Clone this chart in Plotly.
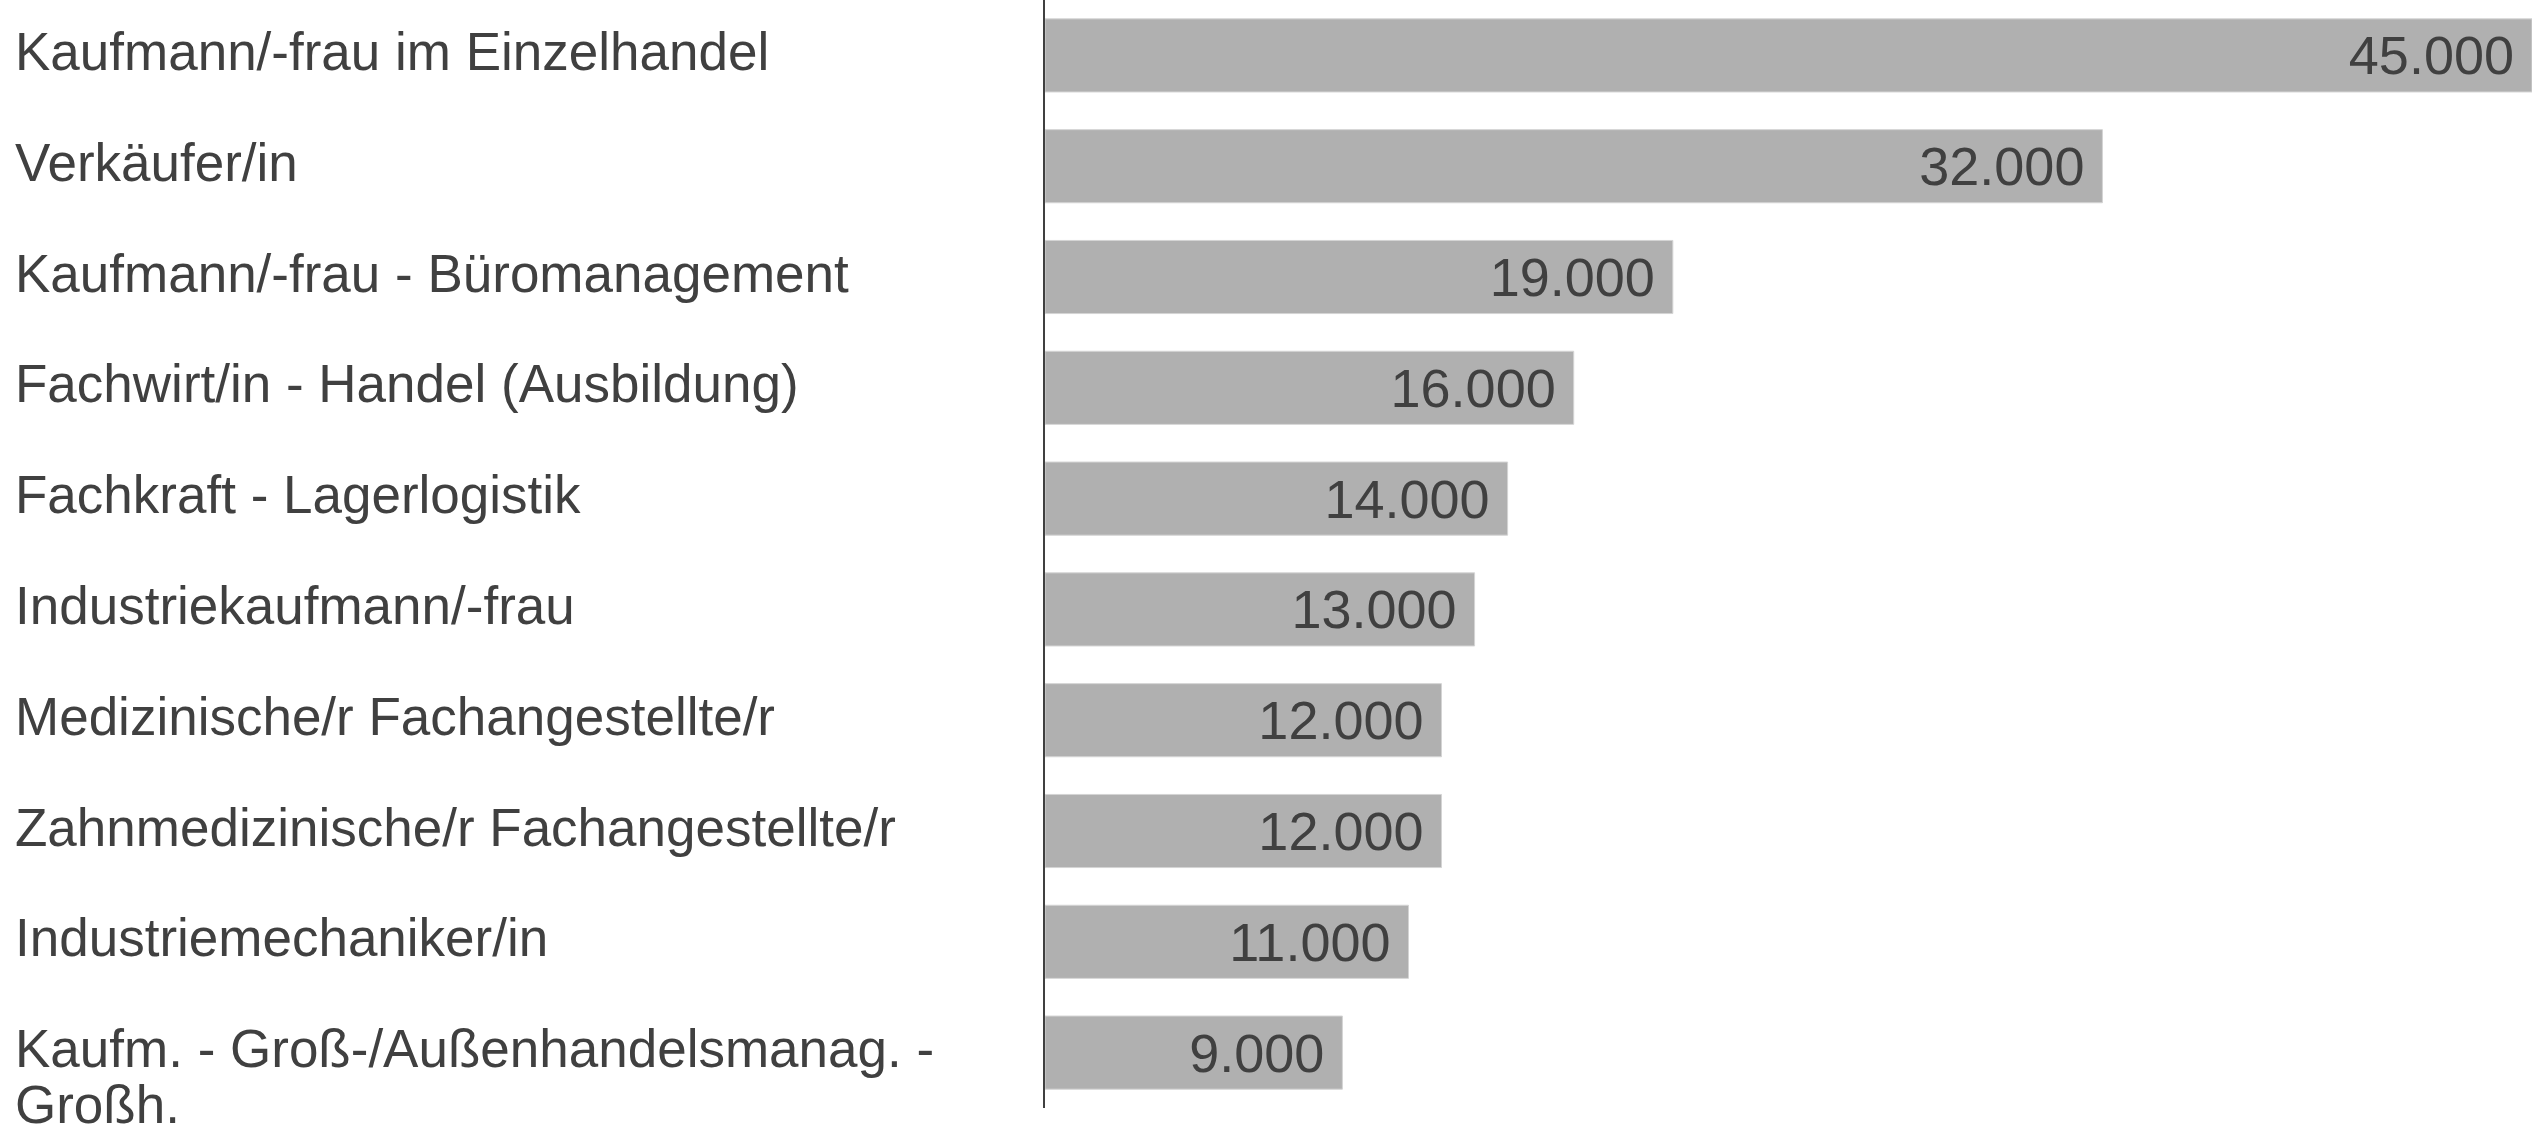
import plotly.graph_objects as go

# Ausbildungsberufe und Anzahl
berufe = [
    "Kaufmann/-frau im Einzelhandel",
    "Verkäufer/in",
    "Kaufmann/-frau - Büromanagement",
    "Fachwirt/in - Handel (Ausbildung)",
    "Fachkraft - Lagerlogistik",
    "Industriekaufmann/-frau",
    "Medizinische/r Fachangestellte/r",
    "Zahnmedizinische/r Fachangestellte/r",
    "Industriemechaniker/in",
    "Kaufm. - Groß-/Außenhandelsmanag. -<br>Großh.",
]
werte = [45000, 32000, 19000, 16000, 14000, 13000, 12000, 12000, 11000, 9000]

W, H = 2532, 1133
ML, MB = 1045, 25
FONT = "Liberation Sans, Arial, sans-serif"
TXT = "#404040"

fig = go.Figure()

fig.add_trace(go.Bar(
    x=werte, y=berufe, orientation="h",
    marker=dict(color="#b0b0b0", line=dict(color="#d4d4d4", width=1)),
    width=0.66,
    texttemplate="%{x:,.0f}\u00a0",
    textposition="inside", insidetextanchor="end",
    textfont=dict(color=TXT, size=54, family=FONT),
    hoverinfo="skip",
))

# linksbuendige Beschriftungen (mehrzeilige mit engerem Zeilenabstand)
for b in berufe:
    for i, zeile in enumerate(b.split("<br>")):
        fig.add_annotation(
            x=(13 - ML) / (W - ML), xref="paper", y=b, yref="y",
            text=zeile, showarrow=False, xanchor="left", align="left",
            yanchor="middle", yshift=4 - i * 56,
            font=dict(size=53, color=TXT, family=FONT),
        )

fig.update_layout(
    width=W, height=H,
    margin=dict(l=ML, r=0, t=0, b=MB),
    plot_bgcolor="white", paper_bgcolor="white",
    separators=",.",
    showlegend=False,
    xaxis=dict(range=[0, 45000], visible=False, fixedrange=True),
    yaxis=dict(autorange="reversed", showticklabels=False, ticks="",
               showline=True, linecolor="#404040", linewidth=2,
               showgrid=False, zeroline=False, fixedrange=True),
)

fig.write_html("out.html", config={"displayModeBar": False},
               post_script="document.body.style.margin='0';")
